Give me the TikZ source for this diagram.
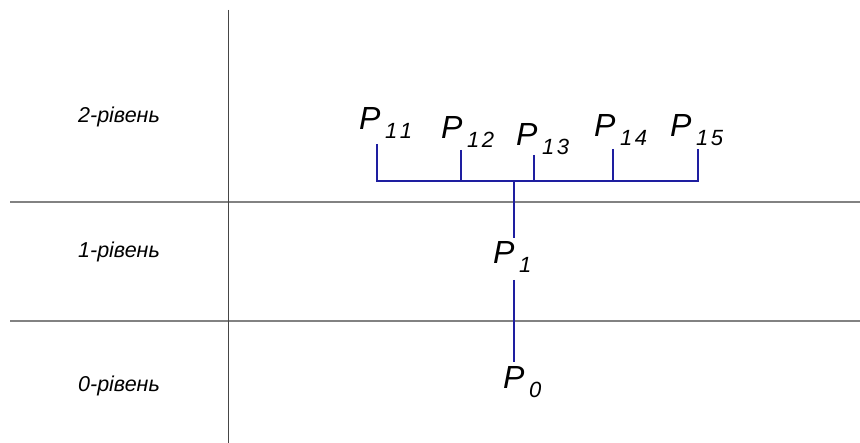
\documentclass[tikz,border=0pt]{standalone}
\usepackage{fontspec}
\setmainfont{Liberation Sans}
\definecolor{treeblue}{RGB}{30,30,160}
\definecolor{gridgray}{RGB}{130,130,130}
\definecolor{axisgray}{RGB}{70,70,70}
\newcommand{\Pn}[1]{{\fontsize{32}{32}\selectfont\itshape P}\kern4.5pt\raisebox{-8.5pt}{\fontsize{22}{22}\selectfont\itshape #1}}
\newcommand{\dgap}{\kern2.5pt}
\begin{document}
\begin{tikzpicture}[x=1pt,y=-1pt,
  lvl/.style={font=\fontsize{21.5}{21.5}\selectfont\itshape, anchor=center, inner sep=0pt},
  pnode/.style={anchor=base west, inner sep=0pt},
  tree/.style={draw=treeblue, line width=1.6pt},
  grid/.style={draw=gridgray, line width=1.2pt},
  axis/.style={draw=axisgray, line width=0.9pt}]
\useasboundingbox (0,0) rectangle (860,443);
% grid
\coordinate (vt) at (228,10);
\coordinate (vb) at (228,443);
\coordinate (h1l) at (10,202);
\coordinate (h1r) at (860,202);
\coordinate (h2l) at (10,321);
\coordinate (h2r) at (860,321);
\draw[grid] (h1l) -- (h1r);
\draw[grid] (h2l) -- (h2r);
\draw[axis] (vt) -- (vb);
% level labels
\node[lvl] (l2) at (119,117) {2-рівень};
\node[lvl] (l1) at (119,252) {1-рівень};
\node[lvl] (l0) at (119,386) {0-рівень};
% P nodes
\node[pnode] (p11) at (359,130) {\Pn{1\dgap1}};
\node[pnode] (p12) at (441,139) {\Pn{1\dgap2}};
\node[pnode] (p13) at (516,146) {\Pn{1\dgap3}};
\node[pnode] (p14) at (594,137) {\Pn{1\dgap4}};
\node[pnode] (p15) at (670,137) {\Pn{1\dgap5}};
\node[pnode] (p1) at (493,264) {\Pn{1}};
\node[pnode] (p0) at (503,389) {\Pn{0}};
% connector ends
\coordinate (t11) at (377,144);
\coordinate (t12) at (461,150);
\coordinate (t13) at (534,155);
\coordinate (t14) at (613,149);
\coordinate (t15) at (698,149);
\coordinate (bar) at (514,181);
\coordinate (t1b) at (514,238);
\coordinate (t1t) at (514,280);
\coordinate (t0) at (514,362);
\draw[tree] (t11) -- (t11 |- bar) -- (t15 |- bar) -- (t15);
\draw[tree] (t12) -- (t12 |- bar);
\draw[tree] (t13) -- (t13 |- bar);
\draw[tree] (t14) -- (t14 |- bar);
\draw[tree] (bar) -- (t1b);
\draw[tree] (t1t) -- (t0);
\end{tikzpicture}
\end{document}
